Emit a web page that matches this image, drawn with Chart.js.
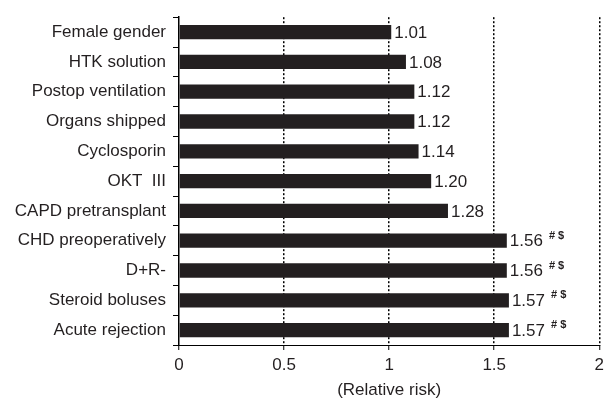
<!DOCTYPE html>
<html>
<head>
<meta charset="utf-8">
<script src="https://cdn.jsdelivr.net/npm/chart.js@4.4.0/dist/chart.umd.min.js"></script>
<style>
  html, body { margin: 0; padding: 0; background: #fff; }
  #wrap { width: 609px; height: 398px; position: relative; }
</style>
</head>
<body>
<div id="wrap"><canvas id="chart"></canvas></div>
<script>
// risk factors, top to bottom
const factors = [
  "Female gender", "HTK solution", "Postop ventilation", "Organs shipped",
  "Cyclosporin", "OKT  III", "CAPD pretransplant", "CHD preoperatively",
  "D+R-", "Steroid boluses", "Acute rejection"
];
const relRisk = [1.01, 1.08, 1.12, 1.12, 1.14, 1.20, 1.28, 1.56, 1.56, 1.57, 1.57];
const marks = ["", "", "", "", "", "", "", "# $", "# $", "# $", "# $"];
const xTicks = [0, 0.5, 1, 1.5, 2];

const FONT = "'Liberation Sans', Arial, Helvetica, sans-serif";

// value labels at the end of each bar
const valueLabels = {
  id: "valueLabels",
  afterDatasetsDraw(chart) {
    const ctx = chart.ctx;
    const meta = chart.getDatasetMeta(0);
    ctx.save();
    ctx.fillStyle = "#231f20";
    ctx.textBaseline = "middle";
    meta.data.forEach((bar, i) => {
      const txt = relRisk[i].toFixed(2);
      ctx.font = "17px " + FONT;
      const x = bar.x + 3;
      ctx.fillText(txt, x, bar.y + 1);
      if (marks[i]) {
        const w = ctx.measureText(txt).width;
        ctx.font = "bold 11px " + FONT;
        ctx.fillText(marks[i], x + w + 6, bar.y - 5);
      }
    });
    ctx.restore();
  }
};

new Chart(document.getElementById("chart"), {
  type: "bar",
  data: {
    labels: factors,
    datasets: [{
      data: relRisk,
      backgroundColor: "#231f20",
      borderWidth: 0,
      categoryPercentage: 1,
      barPercentage: 0.48
    }]
  },
  options: {
    indexAxis: "y",
    responsive: true,
    maintainAspectRatio: false,
    animation: false,
    layout: { padding: { top: 14, right: 5, left: 0, bottom: 0 } },
    plugins: {
      legend: { display: false },
      tooltip: { enabled: false }
    },
    scales: {
      x: {
        min: 0,
        max: 2,
        afterBuildTicks: (s) => { s.ticks = xTicks.map(v => ({ value: v })); },
        afterFit: (s) => { s.height = 53; },
        border: { display: true, color: "#000", width: 1, dash: [2, 2] },
        grid: {
          color: (c) => c.tick && c.tick.value === 0 ? "rgba(0,0,0,0)" : "#000",
          lineWidth: 1.5,
          drawTicks: true,
          tickLength: 5,
          tickColor: "#000",
          tickWidth: 1,
          tickBorderDash: []
        },
        ticks: {
          color: "#231f20",
          padding: 5,
          font: { family: FONT, size: 17 },
          callback: (v) => String(v)
        },
        title: {
          display: true,
          text: "(Relative risk)",
          color: "#231f20",
          font: { family: FONT, size: 17 },
          padding: { top: 0, bottom: -3 }
        }
      },
      y: {
        afterFit: (s) => { s.width = 179; },
        border: { display: true, color: "#000", width: 1.5 },
        grid: {
          offset: true,
          drawOnChartArea: false,
          drawTicks: true,
          tickLength: 6,
          color: "#000",
          lineWidth: 1
        },
        ticks: {
          color: "#231f20",
          padding: 7,
          font: { family: FONT, size: 17 }
        }
      }
    }
  },
  plugins: [valueLabels]
});
</script>
</body>
</html>
